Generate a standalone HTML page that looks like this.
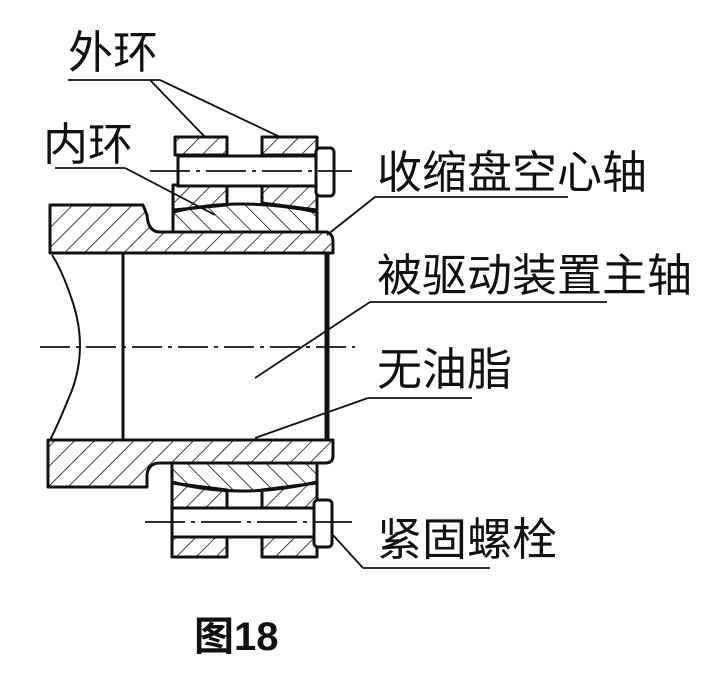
<!DOCTYPE html>
<html><head><meta charset="utf-8"><style>
html,body{margin:0;padding:0;background:#fff;}
svg{display:block;}
text{font-family:"Liberation Sans","Noto Sans CJK SC",sans-serif;fill:#111;}
</style></head><body>
<svg width="718" height="692" viewBox="0 0 718 692" xmlns="http://www.w3.org/2000/svg">
<defs>
<pattern id="h" patternUnits="userSpaceOnUse" width="14" height="14" patternTransform="rotate(45)">
<line x1="0" y1="0" x2="0" y2="14" stroke="#111" stroke-width="1.6"/>
</pattern>
<pattern id="h2" patternUnits="userSpaceOnUse" width="14" height="14" patternTransform="rotate(-45)">
<line x1="0" y1="0" x2="0" y2="14" stroke="#111" stroke-width="1.6"/>
</pattern>
</defs>
<g stroke="#111" stroke-width="3" fill="url(#h)" stroke-linejoin="round">
<path d="M50 205 H143 L147 215 Q148 232 160 232 H327 Q333 234 333 242 V253 H50 Z"/>
<path d="M48 440 H333 V456 Q333 463 325 463 H160 Q148 463 147 475 V487 H48 Z"/>
<rect x="175" y="137" width="52" height="18"/>
<rect x="262" y="137" width="55" height="18"/>
<path d="M173 185 H227 V205 L173 210 Z"/>
<path d="M262 185 H317 V210 L262 203 Z"/>
<path d="M173 232 V212 Q240 196 317 212 V232 Z" fill="url(#h2)"/>
<path d="M172 463 V482 Q240 500 317 482 V463 Z" fill="url(#h2)"/>
<path d="M172 483 L227 490 V508 H172 Z"/>
<path d="M262 490 L317 483 V508 H262 Z"/>
<rect x="172" y="537" width="55" height="20"/>
<rect x="262" y="537" width="55" height="20"/>
</g>
<g stroke="#111" stroke-width="3" fill="#fff">
<rect x="178" y="156" width="140" height="30"/>
<rect x="316" y="148" width="18" height="48" rx="4"/>
<rect x="172" y="508" width="143" height="29"/>
<rect x="314" y="500" width="18" height="47" rx="4"/>
</g>
<g stroke="#111" stroke-width="3" fill="none">
<line x1="123" y1="253" x2="123" y2="440"/>
<line x1="327" y1="253" x2="327" y2="440" stroke-width="5"/>
<line x1="50" y1="253" x2="123" y2="253"/>
<line x1="48" y1="440" x2="123" y2="440"/>
<path d="M52 255 Q62 270 72 300 Q88 347 72 390 Q58 425 50 440" stroke-width="2"/>
</g>
<g stroke="#111" stroke-width="1.8" fill="none">
<line x1="40" y1="347" x2="355" y2="347" stroke-dasharray="30 6 4 6"/>
<line x1="150" y1="171" x2="352" y2="171" stroke-dasharray="40 6 4 6"/>
<line x1="145" y1="522" x2="352" y2="522" stroke-dasharray="40 6 4 6"/>
<line x1="68" y1="80" x2="160" y2="80"/>
<line x1="150" y1="80" x2="205" y2="137"/>
<line x1="160" y1="80" x2="280" y2="137"/>
<line x1="55" y1="168" x2="125" y2="168"/>
<line x1="125" y1="168" x2="215" y2="215"/>
<line x1="375" y1="197" x2="568" y2="197"/>
<line x1="375" y1="197" x2="327" y2="235"/>
<line x1="370" y1="302" x2="607" y2="302"/>
<line x1="370" y1="302" x2="255" y2="378"/>
<line x1="368" y1="398" x2="472" y2="398"/>
<line x1="368" y1="398" x2="255" y2="438"/>
<line x1="363" y1="568" x2="490" y2="568"/>
<line x1="363" y1="568" x2="333" y2="535"/>
</g>
<g font-size="45">
<text x="68" y="68">外环</text>
<text x="43" y="160">内环</text>
<text x="377" y="188">收缩盘空心轴</text>
<text x="377" y="291">被驱动装置主轴</text>
<text x="377" y="385">无油脂</text>
<text x="377" y="555">紧固螺栓</text>
</g>
<text x="194" y="650" font-size="40" font-weight="bold">图18</text>
</svg>
</body></html>
